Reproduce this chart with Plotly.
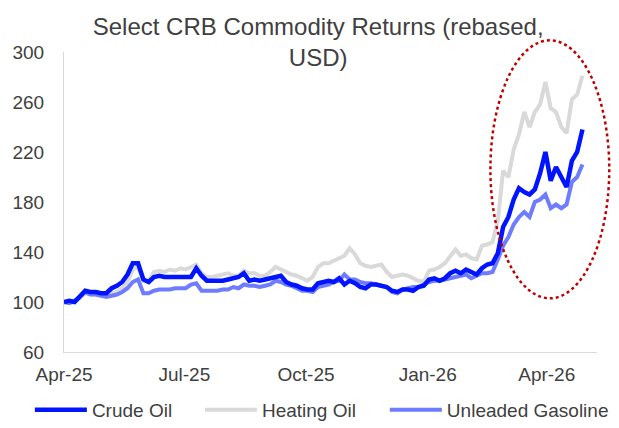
import pandas as pd
import plotly.graph_objects as go

# ---- data (rebased to 100, sampled every 4 days from 1 Apr 2025) ----
start_date = "2025-04-01"
step = "4D"

crude_oil = [
    100, 101, 100, 104, 109, 108, 108, 107, 107, 111,
    113, 116, 122, 131, 131, 118, 116, 120, 121, 120,
    120, 120, 120, 120, 120, 127, 121, 117, 117, 117,
    117, 118, 119, 120, 123, 117, 118, 117, 118, 119,
    120, 121, 116, 114, 113, 111, 110, 110, 115, 116,
    117, 116, 119, 114, 117, 115, 112, 111, 114, 114,
    113, 112, 109, 108, 110, 110, 109, 112, 113, 118,
    119, 117, 119, 123, 125, 123, 126, 124, 122, 127,
    130, 131, 139, 160, 168, 182, 191, 188, 186, 190,
    203, 220, 197, 208, 200, 192, 213, 220, 238,
]

heating_oil = [
    100, 99, 100, 103, 107, 106, 106, 105, 106, 107,
    108, 111, 116, 126, 128, 117, 117, 124, 125, 124,
    126, 125, 127, 126, 128, 130, 123, 120, 120, 121,
    122, 123, 121, 121, 125, 123, 123, 121, 121, 124,
    128, 126, 124, 122, 121, 119, 117, 120, 128, 131,
    131, 133, 135, 137, 143, 138, 131, 129, 128, 129,
    130, 124, 120, 121, 122, 121, 119, 117, 116, 125,
    126, 128, 131, 136, 142, 137, 138, 135, 134, 145,
    146, 148, 165, 205, 200, 222, 234, 252, 240, 252,
    258, 276, 255, 252, 240, 235, 262, 266, 281,
]

unleaded_gasoline = [
    100, 99, 101, 104, 108, 106, 106, 105, 104, 105,
    106, 108, 111, 116, 118, 107, 107, 109, 110, 110,
    110, 111, 111, 111, 114, 115, 109, 109, 109, 109,
    110, 110, 112, 111, 114, 113, 113, 112, 113, 114,
    117, 116, 114, 113, 111, 109, 109, 108, 112, 113,
    114, 116, 117, 122, 118, 118, 116, 115, 115, 114,
    113, 112, 108, 107, 110, 111, 112, 112, 114, 116,
    117, 117, 118, 119, 120, 121, 122, 119, 121, 123,
    123, 124, 134, 145, 152, 162, 168, 172, 168, 180,
    182, 186, 175, 178, 175, 178, 196, 200, 210,
]

series_names = ["Crude Oil", "Heating Oil", "Unleaded Gasoline"]
series_colors = ["#0014FF", "#D9D9D9", "#6E7CFF"]
series_widths = [4.5, 4, 4]
legend_ids = ["legend", "legend2", "legend3"]

y_ticks = [60, 100, 140, 180, 220, 260, 300]
x_tick_dates = ["2025-04-01", "2025-07-01", "2025-10-01", "2026-01-01", "2026-04-01"]
x_tick_labels = ["Apr-25", "Jul-25", "Oct-25", "Jan-26", "Apr-26"]

dates = pd.date_range(start_date, periods=len(crude_oil), freq=step)

fig = go.Figure()
# draw order: heating oil at back, then gasoline, then crude on top
order = [1, 2, 0]
all_series = [crude_oil, heating_oil, unleaded_gasoline]
for idx in order:
    fig.add_trace(go.Scatter(
        x=dates, y=all_series[idx], mode="lines", name=series_names[idx],
        line=dict(color=series_colors[idx], width=series_widths[idx]),
        legend=legend_ids[idx],
    ))

font_family = "Liberation Sans, Arial, sans-serif"
text_color = "#404040"

def legend_box(xpos):
    return dict(
        orientation="h", x=xpos, xanchor="left", y=-0.193, yanchor="middle",
        font=dict(size=19, color=text_color), itemwidth=52,
        bgcolor="rgba(0,0,0,0)",
    )

fig.update_layout(
    width=619, height=428,
    margin=dict(l=64, r=22, t=52, b=76, autoexpand=False),
    paper_bgcolor="white", plot_bgcolor="white",
    font=dict(family=font_family, size=19, color=text_color),
    title=dict(
        text="Select CRB Commodity Returns (rebased,<br>USD)",
        x=0.514, xanchor="center", xref="container",
        y=0.918, yanchor="top", yref="container",
        font=dict(size=24, color=text_color),
    ),
    showlegend=True,
    legend=legend_box(-0.064),
    legend2=legend_box(0.255),
    legend3=legend_box(0.602),
    shapes=[dict(
        type="circle", xref="paper", yref="paper",
        x0=0.80, x1=1.023, y0=0.179, y1=1.039,
        line=dict(color="#C00000", width=2.5, dash="dot"),
    )],
)

fig.update_xaxes(
    type="date",
    range=["2025-04-01", "2026-05-09"],
    tickvals=x_tick_dates, ticktext=x_tick_labels,
    showgrid=False, zeroline=False,
    showline=True, linecolor="#D9D9D9", linewidth=1,
    ticks="", ticklabelstandoff=5,
    tickfont=dict(size=19, color=text_color),
)
fig.update_yaxes(
    range=[60, 300], tickvals=y_ticks,
    showgrid=False, zeroline=False,
    showline=True, linecolor="#D9D9D9", linewidth=1,
    ticks="", ticklabelstandoff=15,
    tickfont=dict(size=19, color=text_color),
)

fig.write_html(
    "out.html",
    config={"displayModeBar": False},
    post_script="document.body.style.margin='0';document.body.style.overflow='hidden';",
)
